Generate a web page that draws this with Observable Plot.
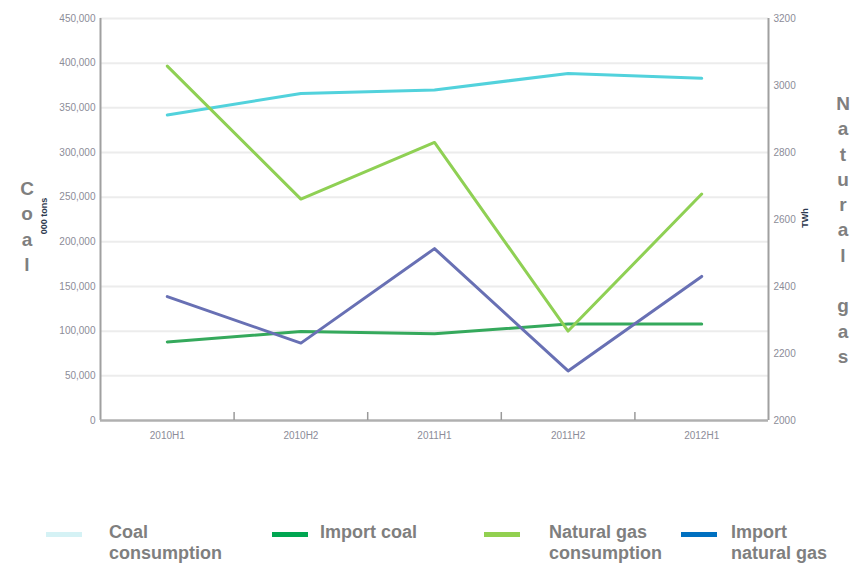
<!DOCTYPE html>
<html><head><meta charset="utf-8">
<script src="https://cdn.jsdelivr.net/npm/d3@7"></script>
<script src="https://cdn.jsdelivr.net/npm/@observablehq/plot@0.6"></script>
<style>
body{margin:0;background:#fff;font-family:"Liberation Sans",Arial,sans-serif}
#wrap{position:relative;width:864px;height:564px;overflow:hidden}
#chart{position:absolute;left:0;top:0}
.vt{position:absolute;font-weight:bold;font-size:19px;color:#7f7f7f;line-height:25.3px;text-align:center;width:20px}
.vt div{height:25.3px}
.unit{position:absolute;font-weight:bold;font-size:9px;color:#2e3a50;white-space:nowrap;transform:translate(-50%,-50%) rotate(-90deg)}
.leg{position:absolute;font-weight:bold;font-size:18px;line-height:21px;color:#7f7f7f}
.sw{position:absolute;height:5px;width:36px}
</style></head><body><div id="wrap"><div id="chart"></div></div>
<script>
const periods = ["2010H1","2010H2","2011H1","2011H2","2012H1"];
const seriesNames = ["Coal consumption","Import coal","Natural gas consumption","Import natural gas"];
const coalConsumption = [342000,366000,370000,388500,383000];
const importCoal = [88000,99500,97000,108000,108000];
const gasConsumption = [3058,2661,2830,2267,2676];
const importGas = [2370,2231,2513,2148,2430];
const leftTicks = [0,50000,100000,150000,200000,250000,300000,350000,400000,450000];
const rightTicks = [2000,2200,2400,2600,2800,3000,3200];
const leftTitle = "Coal", rightTitle = "Natural gas";
const leftUnit = "000 tons", rightUnit = "TWh";
const lineColors = ["#52d2dc","#35a95c","#8fd054","#6870b4"];
const legendColors = ["#d5f2f5","#00a651","#92d050","#0070c0"];

const L = [0, 450000], R = [2000, 3200];
const toLeft = v => (v - R[0]) / (R[1] - R[0]) * (L[1] - L[0]) + L[0];
const toRight = v => String(Math.round(v / (L[1] - L[0]) * (R[1] - R[0]) + R[0]));

const seriesData = [
  {name: seriesNames[0], values: coalConsumption, right: false},
  {name: seriesNames[1], values: importCoal, right: false},
  {name: seriesNames[2], values: gasConsumption, right: true},
  {name: seriesNames[3], values: importGas, right: true}
];
const rows = seriesData.flatMap(s => s.values.map((v, i) => ({series: s.name, x: i + 0.5, y: s.right ? toLeft(v) : v})));

const plot = Plot.plot({
  width: 864, height: 450,
  marginTop: 18, marginBottom: 30, marginLeft: 100, marginRight: 96,
  x: {domain: [0, periods.length]},
  y: {domain: L},
  color: {domain: seriesNames, range: lineColors},
  style: {fontFamily: "Liberation Sans, Arial, sans-serif", fontSize: "10px", color: "#8c8c98", background: "white"},
  marks: [
    Plot.ruleY(leftTicks.filter(d => d > 0), {stroke: "#ececec", strokeWidth: 2}),
    Plot.ruleX([0, periods.length], {stroke: "#a0a0a0", strokeWidth: 2}),
    Plot.ruleY([0], {stroke: "#b0b0b0", strokeWidth: 2.5}),
    Plot.ruleX(d3.range(1, periods.length), {stroke: "#9a9a9a", strokeWidth: 1.5, insetTop: 394}),
    Plot.axisY(leftTicks, {anchor: "left", tickSize: 0, tickPadding: 5, tickFormat: d3.format(","), label: null}),
    Plot.axisY(rightTicks.map(toLeft), {anchor: "right", tickSize: 0, tickPadding: 5, tickFormat: toRight, label: null}),
    Plot.axisX(periods.map((d, i) => i + 0.5), {anchor: "bottom", tickSize: 0, tickPadding: 11, tickFormat: d => periods[Math.floor(d)], label: null}),
    Plot.line(rows, {x: "x", y: "y", z: "series", stroke: "series", strokeWidth: 3})
  ]
});
document.getElementById("chart").appendChild(plot);

const wrap = document.getElementById("wrap");
function vertical(text, left, top) {
  const d = document.createElement("div");
  d.className = "vt";
  d.style.left = left + "px";
  d.style.top = top + "px";
  for (const ch of text) {
    const c = document.createElement("div");
    c.textContent = ch === " " ? "\u00a0" : ch;
    d.appendChild(c);
  }
  wrap.appendChild(d);
}
vertical(leftTitle, 17, 176);
vertical(rightTitle, 833, 91);

function unit(text, cx, cy) {
  const d = document.createElement("div");
  d.className = "unit";
  d.textContent = text;
  d.style.left = cx + "px";
  d.style.top = cy + "px";
  wrap.appendChild(d);
}
unit(leftUnit, 44, 216);
unit(rightUnit, 805, 218);

const legendPos = [[46, 109, ["Coal", "consumption"]], [272, 320, ["Import coal"]], [484, 549, ["Natural gas", "consumption"]], [681, 731, ["Import", "natural gas"]]];
legendPos.forEach(([sx, tx, lines], i) => {
  const s = document.createElement("div");
  s.className = "sw";
  s.style.left = sx + "px";
  s.style.top = "532px";
  s.style.background = legendColors[i];
  wrap.appendChild(s);
  const t = document.createElement("div");
  t.className = "leg";
  t.style.left = tx + "px";
  t.style.top = "522px";
  t.innerHTML = lines.join("<br>");
  wrap.appendChild(t);
});
</script>
</body></html>
